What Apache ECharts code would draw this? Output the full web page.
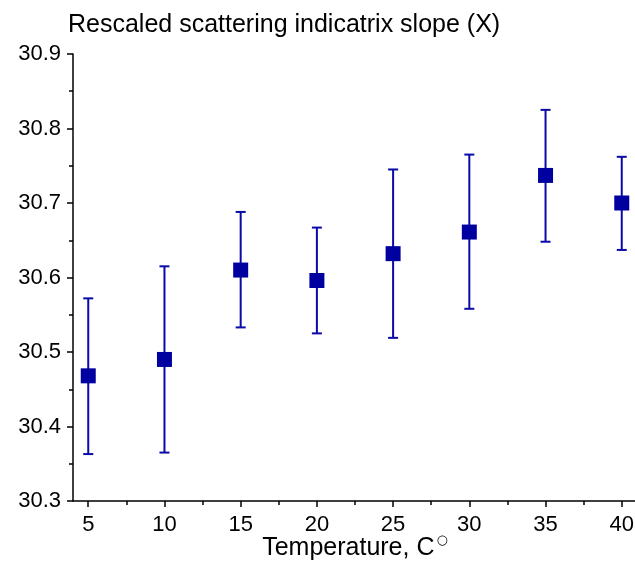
<!DOCTYPE html>
<html>
<head>
<meta charset="utf-8">
<script src="https://cdn.jsdelivr.net/npm/echarts@6/dist/echarts.min.js"></script>
<style>
html,body{margin:0;padding:0;background:#fff;}
#chart{width:635px;height:565px;}
</style>
</head>
<body>
<div id="chart"></div>
<script>
var temperatures = [5, 10, 15, 20, 25, 30, 35, 40];
var slopeValues = [30.468, 30.490, 30.610, 30.596, 30.632, 30.661, 30.737, 30.700];
var errorUpper = [30.572, 30.615, 30.688, 30.667, 30.745, 30.765, 30.825, 30.762];
var errorLower = [30.363, 30.365, 30.533, 30.525, 30.519, 30.558, 30.648, 30.637];
var xMajorTicks = [5, 10, 15, 20, 25, 30, 35, 40];
var xMinorTicks = [7.5, 12.5, 17.5, 22.5, 27.5, 32.5, 37.5];

var FONT = '"Liberation Sans", Arial, sans-serif';
var chart = echarts.init(document.getElementById('chart'), null, {renderer: 'canvas'});

var points = temperatures.map(function (t, i) { return [t, slopeValues[i]]; });
var bars = temperatures.map(function (t, i) { return [t, errorLower[i], errorUpper[i]]; });

chart.setOption({
  animation: false,
  backgroundColor: '#ffffff',
  title: {
    text: 'Rescaled scattering indicatrix slope (X)',
    left: 63, top: 8,
    textStyle: {fontFamily: FONT, fontSize: 25, fontWeight: 'normal', color: '#000'}
  },
  grid: {left: 73, right: -2, top: 54, bottom: 64, containLabel: false, outerBoundsMode: 'none'},
  xAxis: [{
    type: 'value', min: 4, max: 41,
    name: '{a|Temperature, C}{sup|○}',
    nameLocation: 'middle', nameGap: 33, nameMoveOverlap: false,
    nameTextStyle: {fontFamily: FONT, fontSize: 25, color: '#000',
      rich: {
        a: {fontFamily: FONT, fontSize: 25, lineHeight: 28, color: '#000'},
        sup: {fontSize: 13, lineHeight: 13, verticalAlign: 'top', padding: [0, 0, 0, 2], fontFamily: '"DejaVu Sans"', color: '#000'}
      }},
    axisLine: {show: true, onZero: false, lineStyle: {color: '#000', width: 1.5}},
    axisTick: {show: true, inside: false, length: 6, customValues: xMajorTicks, lineStyle: {color: '#000', width: 1.5}},
    axisLabel: {show: true, margin: 13, customValues: xMajorTicks, fontFamily: FONT, fontSize: 22, color: '#000'},
    splitLine: {show: false}
  }, {
    type: 'value', min: 4, max: 41, position: 'bottom',
    axisLine: {show: false, onZero: false},
    axisTick: {show: true, inside: false, length: 4, customValues: xMinorTicks, lineStyle: {color: '#000', width: 1.5}},
    axisLabel: {show: false},
    splitLine: {show: false}
  }],
  yAxis: {
    type: 'value', min: 30.3, max: 30.9, interval: 0.1,
    axisLine: {show: true, onZero: false, lineStyle: {color: '#000', width: 1.5}},
    axisTick: {show: true, inside: false, length: 6, lineStyle: {color: '#000', width: 1.5}},
    minorTick: {show: true, splitNumber: 2, length: 4, lineStyle: {color: '#000', width: 1.5}},
    axisLabel: {margin: 12, fontFamily: FONT, fontSize: 22, color: '#000',
      formatter: function (v) { return v.toFixed(1); }},
    splitLine: {show: false}
  },
  series: [{
    type: 'custom',
    xAxisIndex: 0,
    data: bars,
    z: 2,
    renderItem: function (params, api) {
      var x = api.value(0);
      var lo = api.coord([x, api.value(1)]);
      var hi = api.coord([x, api.value(2)]);
      var cap = 5;
      var st = {stroke: '#0a0aa8', lineWidth: 2};
      return {type: 'group', children: [
        {type: 'line', shape: {x1: lo[0], y1: lo[1], x2: hi[0], y2: hi[1]}, style: st},
        {type: 'line', shape: {x1: hi[0] - cap, y1: hi[1], x2: hi[0] + cap, y2: hi[1]}, style: st},
        {type: 'line', shape: {x1: lo[0] - cap, y1: lo[1], x2: lo[0] + cap, y2: lo[1]}, style: st}
      ]};
    }
  }, {
    type: 'scatter',
    xAxisIndex: 0,
    data: points,
    symbol: 'rect',
    symbolSize: 15,
    z: 3,
    itemStyle: {color: '#0000a0', opacity: 1}
  }]
});
</script>
</body>
</html>
